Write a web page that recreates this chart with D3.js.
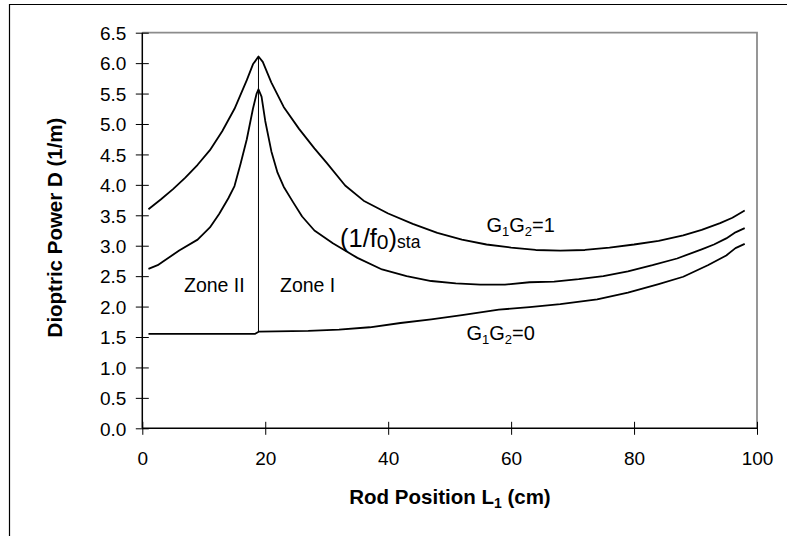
<!DOCTYPE html>
<html>
<head>
<meta charset="utf-8">
<script src="https://cdn.jsdelivr.net/npm/d3@7"></script>
<style>
  html, body { margin: 0; padding: 0; background: #fff; }
  svg { display: block; font-family: Arial, "Liberation Sans", sans-serif; }
</style>
</head>
<body>
<svg id="chart" width="787" height="536"></svg>
<script>
// Rod position L1 (cm) and dioptric power D (1/m) for each curve
const upperL = [1, 3, 5, 7, 9, 11, 13, 15, 17, 18, 18.9, 19.6, 21, 23, 25.5, 28, 30, 33, 36, 40, 44, 48, 52, 56, 60, 64, 68, 72, 76, 80, 84, 88, 91, 94, 96, 98];
const upperD = [3.60, 3.76, 3.93, 4.12, 4.33, 4.57, 4.88, 5.25, 5.72, 5.98, 6.11, 6.02, 5.68, 5.28, 4.92, 4.60, 4.36, 3.99, 3.74, 3.53, 3.36, 3.21, 3.10, 3.02, 2.97, 2.93, 2.92, 2.93, 2.97, 3.02, 3.08, 3.17, 3.26, 3.37, 3.46, 3.58];

const staL = [1, 2.5, 3.5, 6, 9, 11, 12.5, 14, 15, 16, 17, 18, 18.6, 18.9, 19.4, 20, 21, 22, 23, 24.5, 26, 28, 31, 35, 39, 43, 47, 51, 55, 59, 63, 67, 71, 75, 79, 83, 87, 91, 93, 95, 96.5, 98];
const staD = [2.62, 2.68, 2.75, 2.92, 3.10, 3.30, 3.52, 3.78, 3.98, 4.35, 4.75, 5.25, 5.50, 5.57, 5.45, 5.05, 4.55, 4.20, 3.97, 3.72, 3.48, 3.25, 3.04, 2.80, 2.61, 2.50, 2.42, 2.38, 2.36, 2.36, 2.40, 2.41, 2.45, 2.50, 2.58, 2.68, 2.79, 2.94, 3.02, 3.12, 3.22, 3.29];

const lowerL = [1, 18.3, 19, 27, 32, 37, 42, 47, 52, 58, 63, 68, 74, 79, 84, 88, 92, 95, 96.5, 98];
const lowerD = [1.55, 1.55, 1.59, 1.60, 1.62, 1.66, 1.73, 1.79, 1.86, 1.95, 1.99, 2.04, 2.12, 2.23, 2.37, 2.49, 2.68, 2.84, 2.96, 3.03];

// Zone boundary at the peak position
const boundaryL = 18.9;
const boundaryD = [1.59, 6.11];

const xTicks = [0, 20, 40, 60, 80, 100];
const yTicks = [0, 0.5, 1, 1.5, 2, 2.5, 3, 3.5, 4, 4.5, 5, 5.5, 6, 6.5];

const svg = d3.select("#chart");
const plotLeft = 142.3, plotRight = 757, plotTop = 32.7, plotBottom = 428.3;

const x = d3.scaleLinear().domain([0, 100]).range([plotLeft, plotRight]);
const y = d3.scaleLinear().domain([0, 6.5]).range([plotBottom, plotTop]);

// outer frame (only its top and left edges fall inside the view)
svg.append("path")
  .attr("d", `M9.5,536 V4.5 H787`)
  .attr("fill", "none").attr("stroke", "#000").attr("stroke-width", 1.2);

// plot area border (top and right)
svg.append("path")
  .attr("d", `M${plotLeft},${plotTop} H${plotRight} V${plotBottom}`)
  .attr("fill", "none").attr("stroke", "#8c8c8c").attr("stroke-width", 1.8);

// axes
const xAxis = svg.append("g")
  .attr("transform", `translate(0,${plotBottom})`)
  .call(d3.axisBottom(x).tickValues(xTicks).tickSize(6.5).tickFormat(d3.format("d")));
xAxis.select(".domain").attr("d", `M${plotLeft},0 H${plotRight}`).attr("stroke", "#000").attr("stroke-width", 1.5);
xAxis.selectAll(".tick line").attr("y1", -6.5).attr("y2", 6.5).attr("stroke", "#000");
xAxis.selectAll(".tick text")
  .attr("y", 37).attr("dy", null)
  .attr("font-size", 19).attr("fill", "#000")
  .style("font-family", "Arial, 'Liberation Sans', sans-serif");

const yAxis = svg.append("g")
  .attr("transform", `translate(${plotLeft},0)`)
  .call(d3.axisLeft(y).tickValues(yTicks).tickSize(6.5).tickFormat(d3.format(".1f")));
yAxis.select(".domain").attr("d", `M0,${plotTop} V${plotBottom}`).attr("stroke", "#000").attr("stroke-width", 1.5);
yAxis.selectAll(".tick line").attr("x1", -6.5).attr("x2", 6.5).attr("stroke", "#000");
yAxis.selectAll(".tick text")
  .attr("x", -16).attr("dy", "0.36em")
  .attr("font-size", 19).attr("fill", "#000")
  .style("font-family", "Arial, 'Liberation Sans', sans-serif");

// curves
const line = d3.line().x(d => x(d[0])).y(d => y(d[1]));
const curves = [
  d3.zip(upperL, upperD),
  d3.zip(staL, staD),
  d3.zip(lowerL, lowerD)
];
svg.append("g").selectAll("path").data(curves).join("path")
  .attr("d", line)
  .attr("fill", "none").attr("stroke", "#000")
  .attr("stroke-width", 1.8).attr("stroke-linejoin", "round");

// zone boundary
svg.append("line")
  .attr("x1", x(boundaryL)).attr("x2", x(boundaryL))
  .attr("y1", y(boundaryD[0])).attr("y2", y(boundaryD[1]))
  .attr("stroke", "#000").attr("stroke-width", 1);

// labels
const lab = svg.append("g").attr("fill", "#000");
lab.append("text").attr("x", 184).attr("y", 292).attr("font-size", 19.5).text("Zone II");
lab.append("text").attr("x", 280).attr("y", 292).attr("font-size", 19.5).text("Zone I");

const g1 = lab.append("text").attr("x", 486.5).attr("y", 232).attr("font-size", 20);
g1.append("tspan").text("G");
g1.append("tspan").attr("font-size", 13).attr("dy", 4).text("1");
g1.append("tspan").attr("dy", -4).text("G");
g1.append("tspan").attr("font-size", 13).attr("dy", 4).text("2");
g1.append("tspan").attr("dy", -4).text("=1");

const g0 = lab.append("text").attr("x", 466.5).attr("y", 340).attr("font-size", 20);
g0.append("tspan").text("G");
g0.append("tspan").attr("font-size", 13).attr("dy", 4).text("1");
g0.append("tspan").attr("dy", -4).text("G");
g0.append("tspan").attr("font-size", 13).attr("dy", 4).text("2");
g0.append("tspan").attr("dy", -4).text("=0");

const fs = lab.append("text").attr("x", 340).attr("y", 246.5).attr("font-size", 25.5);
fs.append("tspan").text("(1/f");
fs.append("tspan").attr("font-size", 21).attr("dy", 2).text("0");
fs.append("tspan").attr("dy", -2).text(")");
fs.append("tspan").attr("font-size", 17.5).attr("dy", 1).text("sta");

// axis titles
const xt = svg.append("text")
  .attr("x", 450).attr("y", 504).attr("text-anchor", "middle")
  .attr("font-size", 20.5).attr("font-weight", "bold");
xt.append("tspan").text("Rod Position L");
xt.append("tspan").attr("font-size", 14).attr("dy", 4).text("1");
xt.append("tspan").attr("dy", -4).text(" (cm)");

svg.append("text")
  .attr("transform", "translate(61.5,227.5) rotate(-90)")
  .attr("text-anchor", "middle")
  .attr("font-size", 20.5).attr("font-weight", "bold")
  .text("Dioptric Power D (1/m)");
</script>
</body>
</html>
